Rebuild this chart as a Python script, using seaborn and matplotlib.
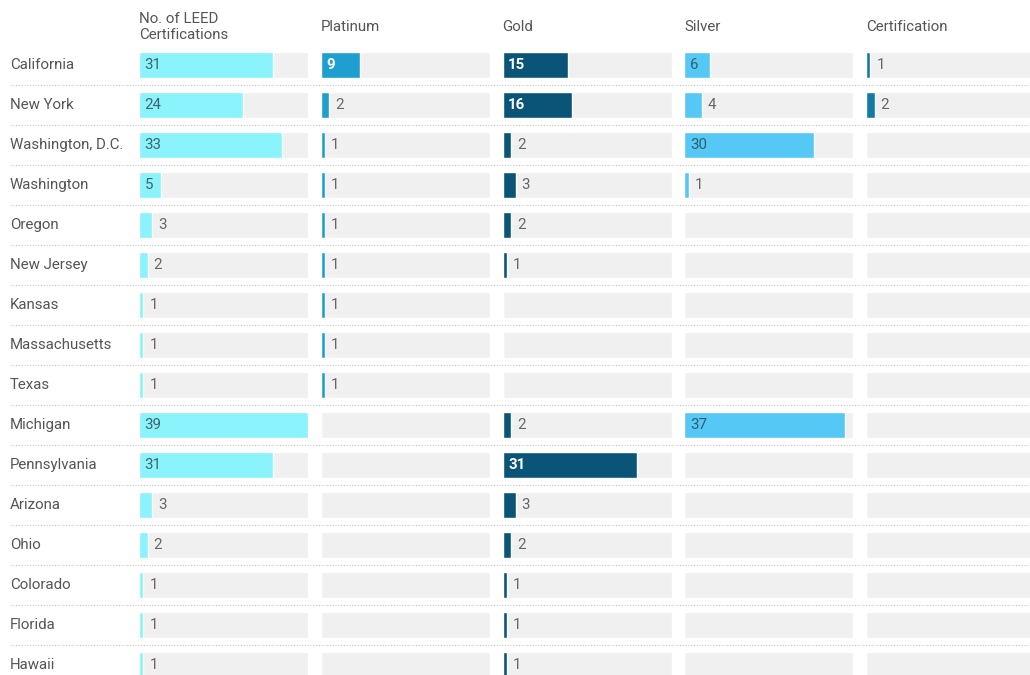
import matplotlib
matplotlib.use("Agg")
import matplotlib.pyplot as plt
import seaborn as sns
import pandas as pd
import numpy as np

# Data
states = ["California", "New York", "Washington, D.C.", "Washington", "Oregon",
          "New Jersey", "Kansas", "Massachusetts", "Texas", "Michigan",
          "Pennsylvania", "Arizona", "Ohio", "Colorado", "Florida", "Hawaii"]
total = [31, 24, 33, 5, 3, 2, 1, 1, 1, 39, 31, 3, 2, 1, 1, 1]
platinum = [9, 2, 1, 1, 1, 1, 1, 1, 1, 0, 0, 0, 0, 0, 0, 0]
gold = [15, 16, 2, 3, 2, 1, 0, 0, 0, 2, 31, 3, 2, 1, 1, 1]
silver = [6, 4, 30, 1, 0, 0, 0, 0, 0, 37, 0, 0, 0, 0, 0, 0]
certification = [1, 2, 0, 0, 0, 0, 0, 0, 0, 0, 0, 0, 0, 0, 0, 0]
headers = ["No. of LEED\nCertifications", "Platinum", "Gold", "Silver", "Certification"]

# Style per column: (values, bar colour, inside text colour, inside bold)
columns = [
    (total, "#8af3fb", "#3d6470", False),
    (platinum, "#1e9fcf", "white", True),
    (gold, "#0a5478", "white", True),
    (silver, "#56c8f6", "#2f5f70", False),
    (certification, "#137ba3", "white", True),
]

sns.set_theme(style="white")
plt.rcParams["font.family"] = ["Roboto", "DejaVu Sans"]
FS = 10.8
WT = "normal"
TXT = "#555555"

W, H = 1030, 675
fig = plt.figure(figsize=(W / 100, H / 100), dpi=100)

n = len(states)
row_h = 40
top_px = 45
bot_px = top_px + n * row_h
ax_bottom = 1 - bot_px / H
ax_height = (bot_px - top_px) / H
vmax = 39

# background axes for labels and dotted separators
base = fig.add_axes([0, ax_bottom, 1, ax_height])
base.set_xlim(0, W)
base.set_ylim(n - 0.5, -0.5)
base.axis("off")
for k in range(n - 1):
    base.plot([10, W], [k + 0.5, k + 0.5], color="#c8c8c8", lw=0.8,
              linestyle=(0, (1, 1.5)))
for k, s in enumerate(states):
    base.text(10, k, s, va="center", ha="left", fontsize=FS, color=TXT,
              fontweight=WT)

df = pd.DataFrame({"state": states})
for i, (vals, color, in_color, bold) in enumerate(columns):
    left_px = 139 + i * 181.75
    ax = fig.add_axes([left_px / W, ax_bottom, 169 / W, ax_height])
    df["bg"] = vmax
    df["val"] = vals
    sns.barplot(data=df, y="state", x="bg", color="#f0f0f0", orient="h",
                width=0.65, ax=ax, saturation=1)
    sns.barplot(data=df, y="state", x="val", color=color, orient="h",
                width=0.65, ax=ax, saturation=1)
    ax.set_xlim(0, vmax)
    ax.set_ylim(n - 0.5, -0.5)
    ax.axis("off")
    for k, v in enumerate(vals):
        if v <= 0:
            continue
        if v >= 5:
            ax.text(1.3, k, str(v), va="center", ha="left", fontsize=FS,
                    color=in_color, fontweight="bold" if bold else WT)
        else:
            ax.text(v + 1.4, k, str(v), va="center", ha="left", fontsize=FS,
                    color="#666666", fontweight=WT)
    fig.text(left_px / W, 1 - 27 / H, headers[i], va="center", ha="left",
             fontsize=FS, color=TXT, linespacing=1.25, fontweight=WT)

fig.savefig("out.png", dpi=100)
